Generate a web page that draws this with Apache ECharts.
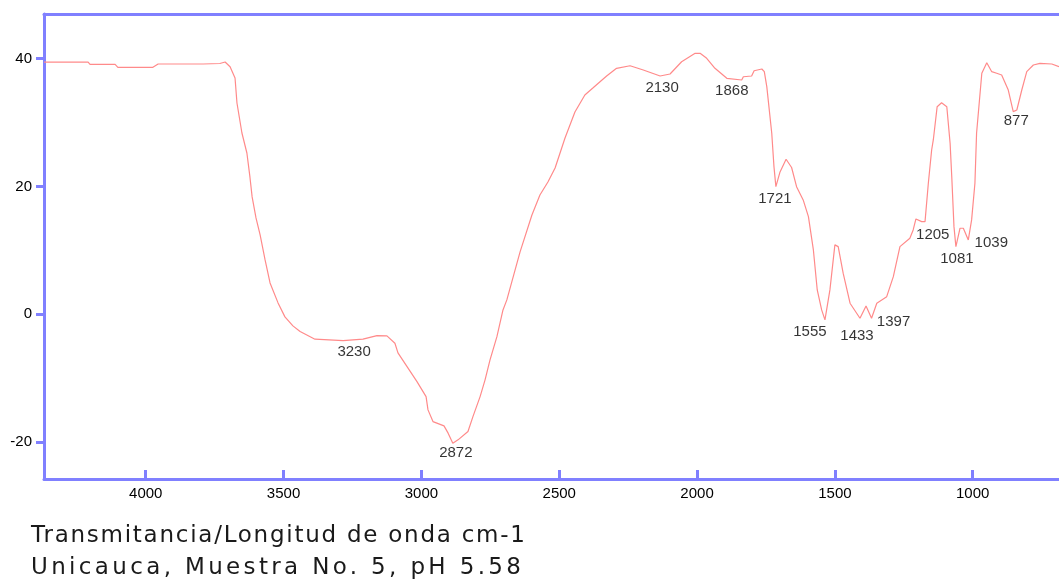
<!DOCTYPE html>
<html>
<head>
<meta charset="utf-8">
<script src="https://cdn.jsdelivr.net/npm/echarts@6/dist/echarts.min.js"></script>
<style>
html,body{margin:0;padding:0;background:#fff;}
#chart{width:1059px;height:579px;}
</style>
</head>
<body>
<div id="chart"></div>
<script>
// Wavenumbers (cm-1)
const wavenumbers = [4369,4209,4202,4111,4101,3974,3955,3810,3803,3792,3731,3712,3694,3676,3669,3651,3633,3622,3614,3600,3585,3567,3549,3520,3495,3466,3440,3386,3284,3212,3161,3125,3096,3085,3052,3016,2983,2976,2958,2918,2903,2886,2867,2831,2813,2787,2769,2751,2726,2704,2690,2642,2599,2570,2541,2515,2479,2443,2407,2378,2352,2328,2292,2243,2195,2134,2098,2056,2007,1989,1965,1935,1892,1838,1832,1802,1793,1765,1756,1747,1729,1721,1714,1699,1677,1657,1639,1615,1596,1578,1564,1548,1536,1518,1500,1488,1470,1445,1409,1387,1367,1348,1312,1288,1264,1228,1216,1206,1185,1173,1161,1149,1143,1129,1113,1094,1082,1076,1068,1061,1046,1034,1016,1004,992,986,967,949,931,913,895,871,853,840,822,804,780,756,713,687];
// Transmittance values
const transmittance = [39.48,39.48,39.12,39.12,38.65,38.65,39.17,39.17,38.90,39.17,39.25,39.48,38.75,36.98,33.07,28.37,25.24,21.49,18.36,15.07,12.41,8.50,4.90,1.77,-0.42,-1.83,-2.72,-3.91,-4.13,-3.91,-3.35,-3.40,-4.54,-6.06,-8.20,-10.55,-12.90,-14.98,-16.81,-17.48,-18.62,-20.19,-19.67,-18.37,-16.03,-12.90,-10.28,-7.15,-3.51,0.67,2.24,9.75,15.54,18.67,20.70,22.89,27.59,31.66,34.32,35.41,36.40,37.29,38.50,38.90,38.23,37.29,37.61,39.53,40.85,40.85,40.06,38.50,36.93,36.67,37.18,37.29,38.12,38.39,37.97,35.62,28.33,23.10,19.97,22.27,24.26,22.97,19.97,17.89,15.27,10.06,3.80,0.67,-0.89,3.80,10.85,10.58,6.42,1.72,-0.63,1.30,-0.63,1.72,2.75,5.88,10.58,11.89,13.19,14.91,14.49,14.49,20.50,25.71,27.28,32.49,33.11,32.49,26.76,21.53,13.71,10.58,13.46,13.46,11.63,14.76,20.50,28.33,37.72,39.37,37.97,37.72,37.45,35.10,31.71,31.97,35.10,37.97,39.01,39.28,39.17,38.75];

// Peak annotations
const peakLabels = ['3230','2872','2130','1868','1721','1555','1433','1397','1205','1081','1039','877'];
const peakWn     = [3244, 2886, 2134, 1874, 1714, 1536, 1409, 1367, 1185, 1061, 1016, 853];
const peakT      = [-4.07,-20.19,37.29,36.74,19.97,-0.89,-0.63,-0.63,14.49,10.58,11.63,31.71];

// Axis tick labels
const xTicks = [1000,1500,2000,2500,3000,3500,4000];
const yTicks = [-20,0,20,40];

const titleLines = ['Transmitancia/Longitud de onda cm-1','Unicauca, Muestra No. 5, pH 5.58'];

// layout / style only
const labelOffsets = [[0,12],[3,10],[2,12],[0,11],[-1,12],[-15,12],[-3,18],[22,4],[11,13],[1,12],[23,3],[3,9]];
const titleSpacing = [1.75, 3.35]; // px letter spacing per caption line

// the caption in the picture uses a widely spaced font: emulate with canvas letterSpacing
(function(){
  const proto = CanvasRenderingContext2D.prototype;
  const orig = proto.fillText;
  proto.fillText = function(text, x, y, maxW){
    const idx = titleLines.indexOf(String(text));
    if (idx >= 0 && 'letterSpacing' in this) {
      const prev = this.letterSpacing;
      this.letterSpacing = titleSpacing[idx] + 'px';
      const r = maxW === undefined ? orig.call(this, text, x, y) : orig.call(this, text, x, y, maxW);
      this.letterSpacing = prev;
      return r;
    }
    return maxW === undefined ? orig.call(this, text, x, y) : orig.call(this, text, x, y, maxW);
  };
})();

const AXIS_COLOR = '#8080ff';
const LINE_COLOR = '#ff8a8a';
const FONT = 'Liberation Sans, Arial, sans-serif';

const chart = echarts.init(document.getElementById('chart'), null, {renderer:'canvas'});

const lineData = wavenumbers.map((w,i)=>[w, transmittance[i]]);
const peakData = peakLabels.map((l,i)=>({
  name: l,
  value: [peakWn[i], peakT[i]],
  label: {offset: labelOffsets[i]}
}));

const option = {
  animation: false,
  backgroundColor: '#fff',
  title: {
    text: titleLines.join('\n'),
    left: 31,
    top: 520,
    padding: 0,
    textStyle: {
      fontFamily: 'DejaVu Sans, sans-serif',
      fontSize: 23,
      fontWeight: 'normal',
      color: '#1a1a1a',
      lineHeight: 32
    }
  },
  grid: {left: 44, right: 0, top: 14, bottom: 100, containLabel: false},
  xAxis: [{
    type: 'value',
    inverse: true,
    min: 687,
    max: 4369,
    axisLine: {show: true, onZero: false, lineStyle: {color: AXIS_COLOR, width: 3}},
    axisTick: {show: true, inside: true, length: 9, customValues: xTicks, lineStyle: {color: AXIS_COLOR, width: 3}},
    axisLabel: {show: true, customValues: xTicks, margin: 7, color: '#000', fontSize: 15, fontFamily: FONT,
      formatter: v => String(v)},
    splitLine: {show: false}
  },{
    type: 'value',
    position: 'top',
    inverse: true,
    min: 687,
    max: 4369,
    axisLine: {show: true, onZero: false, lineStyle: {color: AXIS_COLOR, width: 3}},
    axisTick: {show: false},
    axisLabel: {show: false},
    splitLine: {show: false}
  }],
  yAxis: {
    type: 'value',
    min: -25.8,
    max: 47.0,
    axisLine: {show: true, onZero: false, lineStyle: {color: AXIS_COLOR, width: 3}},
    axisTick: {show: true, inside: false, length: 8, customValues: yTicks, lineStyle: {color: AXIS_COLOR, width: 3}},
    axisLabel: {show: true, customValues: yTicks, margin: 12, color: '#000', fontSize: 15, fontFamily: FONT,
      formatter: v => String(v)},
    splitLine: {show: false}
  },
  series: [{
    type: 'line',
    data: lineData,
    showSymbol: false,
    symbol: 'none',
    smooth: false,
    lineStyle: {color: LINE_COLOR, width: 1.2},
    z: 2
  },{
    type: 'scatter',
    data: peakData,
    symbolSize: 0,
    silent: true,
    label: {
      show: true,
      position: 'inside',
      formatter: p => p.name,
      color: '#000',
      fontSize: 15,
      fontFamily: FONT
    },
    z: 3
  }]
};
chart.setOption(option);
</script>
</body>
</html>
